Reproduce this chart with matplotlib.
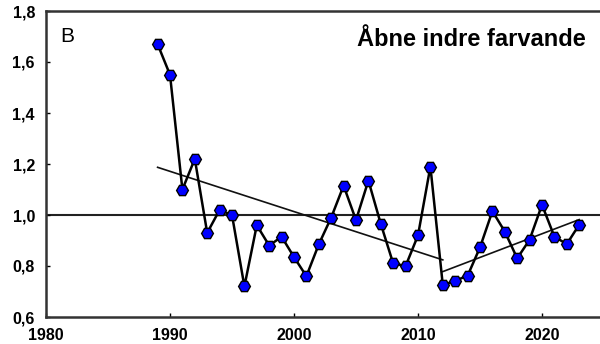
import matplotlib
matplotlib.use("Agg")
import matplotlib.pyplot as plt

# yearly values
years = list(range(1989, 2024))
values = [1.67, 1.55, 1.10, 1.22, 0.93, 1.02, 1.00, 0.72, 0.96, 0.88,
          0.915, 0.835, 0.76, 0.885, 0.99, 1.115, 0.98, 1.135, 0.965, 0.81,
          0.80, 0.92, 1.19, 0.725, 0.742, 0.762, 0.873, 1.015, 0.935, 0.83,
          0.903, 1.04, 0.915, 0.886, 0.962]

# two trend segments (endpoints)
trend1_years = [1989, 2012]
trend1_values = [1.187, 0.824]
trend2_years = [2012, 2023]
trend2_values = [0.778, 0.982]

xticks = [1980, 1990, 2000, 2010, 2020]
yticks = [0.6, 0.8, 1.0, 1.2, 1.4, 1.6, 1.8]

plt.rcParams['font.family'] = ['Liberation Sans', 'DejaVu Sans']

fig = plt.figure(figsize=(6, 3.44), dpi=100)
W, H = 600.0, 344.0
left, right, top, bottom = 46, 604, 11, 317
ax = fig.add_axes([left / W, (H - bottom) / H, (right - left) / W, (bottom - top) / H])

ax.axhline(1.0, color='#222222', lw=1.5, zorder=1)
ax.plot(trend1_years, trend1_values, color='#111111', lw=1.2, zorder=2)
ax.plot(trend2_years, trend2_values, color='#111111', lw=1.2, zorder=2)
ax.plot(years, values, color='black', lw=1.8, zorder=3,
        marker='H', markersize=8.5, markerfacecolor='#0000ff',
        markeredgecolor='black', markeredgewidth=1.0)

ax.set_xlim(1980, 2025)
ax.set_ylim(0.6, 1.8)
ax.set_xticks(xticks)
ax.set_yticks(yticks)
ax.set_yticklabels([('%.1f' % v).replace('.', ',') for v in yticks])
ax.tick_params(direction='in', length=3, width=1, pad=8, labelsize=11.5)
for lab in ax.get_xticklabels() + ax.get_yticklabels():
    lab.set_fontweight('bold')

for s in ax.spines.values():
    s.set_linewidth(1.8)
    s.set_color('#333333')

fig.text(60 / W, 1 - 36 / H, 'B', fontsize=15, va='center', ha='left')
fig.text(471 / W, 1 - 40 / H, 'Åbne indre farvande', fontsize=17,
         fontweight='bold', va='center', ha='center')

fig.savefig('out.png', dpi=100)
